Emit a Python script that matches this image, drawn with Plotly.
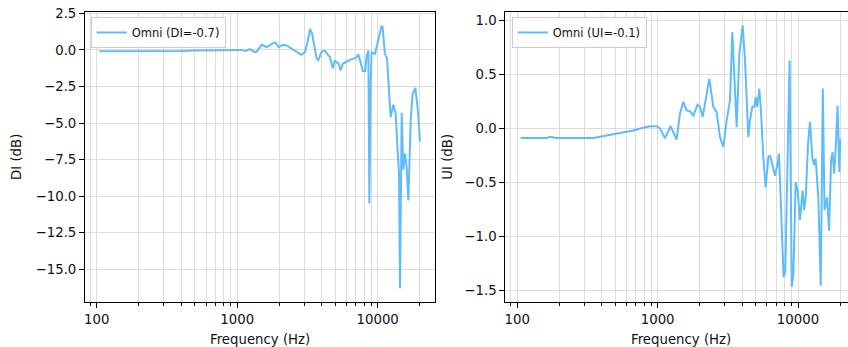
import plotly.graph_objects as go

# ---------------- data ----------------
freq_di = [104.5, 150, 200, 300, 400, 500, 700, 850, 1000, 1080, 1140, 1233, 1340, 1376,
           1495, 1621, 1810, 1870, 1970, 2120, 2250, 2440, 2600, 2860, 3040, 3180, 3300,
           3420, 3485, 3680, 3780, 3994, 4220, 4333, 4580, 4790, 4960, 5100, 5250, 5450,
           5640, 6030, 6370, 6710, 7020, 7285, 7570, 7860, 8150, 8350, 8585, 8727, 8916,
           9050, 9570, 10394, 10672, 10840, 11260, 11660, 12370, 12920, 13420, 13870, 14185,
           14420, 14820, 15235, 15660, 16090, 16540, 17180, 17750, 18540, 19260, 20000]
di_db = [-0.09, -0.1, -0.1, -0.1, -0.08, -0.05, -0.02, 0.02, 0.03, 0.0, -0.08, 0.05, -0.16, -0.12,
         0.36, 0.18, 0.48, 0.5, 0.18, 0.34, 0.3, 0.07, -0.05, -0.34, -0.15, 0.6, 1.43,
         1.1, 0.64, -0.6, -0.7, -0.12, -0.05, -0.25, -0.5, -1.25, -0.73, -0.85, -0.9, -1.4,
         -0.95, -0.77, -0.68, -0.6, -0.55, -0.3, -0.86, -1.45, -1.45, -0.4, -0.05, -10.5, -2.3,
         -0.16, -0.27, 1.3, 1.65, 1.55, -0.27, -0.6, -4.6, -3.75, -4.35, -6.9, -8.4,
         -16.3, -4.3, -8.2, -7.1, -8.0, -10.3, -4.8, -3.0, -2.6, -4.0, -6.25]

freq_ui = [105.6, 162, 171, 190, 348, 433, 539, 671, 791, 882, 984, 1040, 1128, 1238, 1366,
           1442, 1523, 1609, 1700, 1796, 1928, 2003, 2093, 2199, 2334, 2494, 2633, 2781, 2937,
           3102, 3276, 3404, 3516, 3656, 3818, 4036, 4192, 4307, 4428, 4549, 4728, 4887, 4994,
           5129, 5299, 5444, 5660, 5882, 6149, 6315, 6605, 6865, 7140, 7320, 7580, 7890, 8110,
           8420, 8710, 9020, 9266, 9621, 9940, 10326, 10780, 11050, 11350, 11790, 12170, 12640,
           12990, 13350, 13950, 14510, 15020, 15440, 16090, 16640, 17190, 17620, 18110, 18600,
           19140, 19690, 20000]
ui_db = [-0.09, -0.09, -0.077, -0.09, -0.09, -0.065, -0.043, -0.02, 0.006, 0.02, 0.02, 0.0, -0.09, 0.02, -0.105,
         0.136, 0.245, 0.167, 0.158, 0.12, 0.22, 0.2, 0.105, 0.26, 0.46, 0.2, 0.15, -0.08, -0.173,
         0.074, 0.26, 0.894, 0.48, 0.012, 0.69, 0.956, 0.63, 0.2, -0.08, 0.074, 0.2, 0.2, 0.29,
         0.2, 0.37, 0.17, -0.27, -0.545, -0.27, -0.25, -0.36, -0.44, -0.33, -0.235, -0.76, -1.38, -1.33,
         -0.14, 0.63, -1.47, -1.35, -0.5, -0.58, -0.85, -0.575, -0.76, -0.64, -0.14, 0.06, -0.27,
         -0.34, -0.28, -0.64, -1.46, 0.37, -0.76, -0.64, -0.95, -0.3, -0.22, -0.42, -0.16,
         0.21, -0.405, -0.1]

di_label = "Omni (DI=-0.7)"
ui_label = "Omni (UI=-0.1)"

x_major = [100, 1000, 10000]
x_major_text = ["100", "1000", "10000"]
x_minor = [90, 200, 300, 400, 500, 600, 700, 800, 900,
           2000, 3000, 4000, 5000, 6000, 7000, 8000, 9000, 20000]

di_ticks = [2.5, 0.0, -2.5, -5.0, -7.5, -10.0, -12.5, -15.0]
di_tick_text = ["2.5", "0.0", "\u22122.5", "\u22125.0", "\u22127.5", "\u221210.0", "\u221212.5", "\u221215.0"]
ui_ticks = [1.0, 0.5, 0.0, -0.5, -1.0, -1.5]
ui_tick_text = ["1.0", "0.5", "0.0", "\u22120.5", "\u22121.0", "\u22121.5"]

# ---------------- style ----------------
LINE = "#5ebcfd"
GRID = "#dcdcdc"
FONT = "DejaVu Sans"
W, H = 848, 347
T, B = 12, 45

fig = go.Figure()
fig.add_trace(go.Scatter(x=freq_di, y=di_db, mode="lines", name=di_label,
                         line=dict(color=LINE, width=2), xaxis="x", yaxis="y", legend="legend"))
fig.add_trace(go.Scatter(x=freq_ui, y=ui_db, mode="lines", name=ui_label,
                         line=dict(color=LINE, width=2), xaxis="x2", yaxis="y2", legend="legend2"))

def xaxis(domain, rng, anchor):
    return dict(domain=domain, type="log", range=rng, anchor=anchor,
                tickmode="array", tickvals=x_major, ticktext=x_major_text,
                ticks="outside", ticklen=5, tickwidth=1, tickcolor="#000",
                showline=True, linecolor="#000", linewidth=1, mirror=True,
                showgrid=True, gridcolor=GRID, gridwidth=1, zeroline=False,
                tickfont=dict(family=FONT, size=13.3, color="#111"),
                minor=dict(tickmode="array", tickvals=x_minor, ticks="outside", ticklen=3,
                           tickwidth=1, tickcolor="#000", showgrid=True,
                           gridcolor=GRID, gridwidth=1))

def yaxis(rng, anchor, ticks, text, mirror):
    return dict(domain=[0, 1], range=rng, anchor=anchor,
                tickmode="array", tickvals=ticks, ticktext=text,
                ticks="outside", ticklen=5, tickwidth=1, tickcolor="#000",
                showline=True, linecolor="#000", linewidth=1, mirror=mirror,
                showgrid=True, gridcolor=GRID, gridwidth=1, zeroline=False,
                tickfont=dict(family=FONT, size=13.3, color="#111"))

legend_style = dict(xanchor="left", yanchor="top", bgcolor="rgba(255,255,255,0.85)",
                    bordercolor="#cccccc", borderwidth=1,
                    font=dict(family=FONT, size=11.5, color="#111"))

fig.update_layout(
    width=W, height=H,
    margin=dict(l=0, r=0, t=T, b=B),
    paper_bgcolor="white", plot_bgcolor="white",
    font=dict(family=FONT, size=13.3, color="#111"),
    xaxis=xaxis([85 / W, 435 / W], [1.917, 4.408], "y"),
    yaxis=yaxis([-17.24, 2.59], "x", di_ticks, di_tick_text, True),
    xaxis2=xaxis([505.3 / W, 1.0], [1.915, 4.356], "y2"),
    yaxis2=yaxis([-1.611, 1.08], "x2", ui_ticks, ui_tick_text, False),
    legend=dict(x=90.7 / W, y=1 - 5 / 290, **legend_style),
    legend2=dict(x=511.7 / W, y=1 - 5 / 290, **legend_style),
    showlegend=True,
)

ph = H - T - B
def py(pix):
    return (H - B - pix) / ph

annots = [
    dict(text="DI (dB)", x=16 / W, y=0.5, textangle=-90),
    dict(text="UI (dB)", x=446.7 / W, y=0.5, textangle=-90),
    dict(text="Frequency (Hz)", x=260 / W, y=py(339.3)),
    dict(text="Frequency (Hz)", x=681 / W, y=py(339.3)),
]
for a in annots:
    fig.add_annotation(xref="paper", yref="paper", showarrow=False,
                       xanchor="center", yanchor="middle",
                       font=dict(family=FONT, size=13.3, color="#111"), **a)

fig.write_html("out.html")
